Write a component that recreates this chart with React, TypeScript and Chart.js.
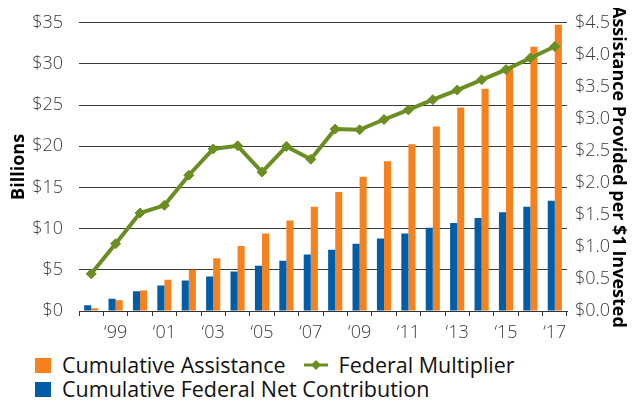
import React, { useEffect, useRef } from "react";
import { Chart, registerables } from "chart.js";

Chart.register(...registerables);

const years = [
  "1998", "1999", "2000", "2001", "2002", "2003", "2004", "2005", "2006", "2007",
  "2008", "2009", "2010", "2011", "2012", "2013", "2014", "2015", "2016", "2017",
];
const tickLabels = years.map((y) => (Number(y) % 2 === 1 ? "\u2018" + y.slice(2) : ""));

const cumulativeAssistance = [
  0.33, 1.3, 2.5, 3.8, 5.0, 6.4, 7.9, 9.4, 11.0, 12.65,
  14.45, 16.3, 18.2, 20.25, 22.4, 24.7, 27.0, 29.55, 32.1, 34.75,
];
const cumulativeFederalNet = [
  0.7, 1.5, 2.4, 3.1, 3.7, 4.2, 4.8, 5.5, 6.1, 6.85,
  7.45, 8.17, 8.8, 9.4, 10.1, 10.7, 11.3, 12.0, 12.65, 13.4,
];
const federalMultiplier = [
  0.58, 1.05, 1.53, 1.65, 2.12, 2.53, 2.58, 2.17, 2.57, 2.37,
  2.84, 2.83, 2.99, 3.14, 3.3, 3.45, 3.61, 3.77, 3.95, 4.13,
];

const ORANGE = "#F5821F";
const BLUE = "#005DA6";
const GREEN = "#6B8E23";
const FONT = "'Open Sans', 'Noto Sans', sans-serif";
const TEXT = "#3a3a3a";

export default function App() {
  const canvasRef = useRef<HTMLCanvasElement | null>(null);

  useEffect(() => {
    if (!canvasRef.current) return;
    const chart = new Chart(canvasRef.current, {
      type: "bar",
      data: {
        labels: tickLabels,
        datasets: [
          {
            type: "line",
            label: "Federal Multiplier",
            data: federalMultiplier,
            yAxisID: "y2",
            borderColor: GREEN,
            backgroundColor: GREEN,
            borderWidth: 4,
            pointStyle: "rectRot",
            pointRadius: 5,
            pointBackgroundColor: GREEN,
            pointBorderColor: GREEN,
            pointBorderWidth: 1,
            tension: 0,
            order: 0,
          },
          {
            type: "bar",
            label: "Cumulative Federal Net Contribution",
            data: cumulativeFederalNet,
            yAxisID: "y",
            backgroundColor: BLUE,
            barPercentage: 1,
            categoryPercentage: 0.58,
            order: 1,
          },
          {
            type: "bar",
            label: "Cumulative Assistance",
            data: cumulativeAssistance,
            yAxisID: "y",
            backgroundColor: ORANGE,
            barPercentage: 1,
            categoryPercentage: 0.58,
            order: 1,
          },
        ],
      },
      options: {
        responsive: true,
        maintainAspectRatio: false,
        animation: false,
        layout: { padding: { top: 1, left: 0, right: 0, bottom: 0 } },
        plugins: {
          legend: { display: false },
          tooltip: { enabled: false },
        },
        scales: {
          x: {
            offset: true,
            grid: {
              offset: true,
              drawOnChartArea: false,
              drawTicks: true,
              tickLength: 5,
              color: "#333",
            },
            border: { display: true, color: "#333", width: 1 },
            ticks: {
              autoSkip: false,
              maxRotation: 0,
              padding: 6,
              color: TEXT,
              font: { family: FONT, size: 18, weight: 300 },
            },
            afterFit: (s: any) => {
              s.height = 42;
            },
          },
          y: {
            position: "left",
            min: 0,
            max: 35,
            ticks: {
              stepSize: 5,
              padding: 16,
              color: TEXT,
              font: { family: FONT, size: 18, weight: 300 },
              callback: (v: any) => "$" + v,
            },
            grid: { drawTicks: false, color: "#3a3a3a", lineWidth: 1 },
            border: { display: false },
            title: {
              display: true,
              text: "Billions",
              color: "#000",
              font: { family: FONT, size: 18, weight: "bold" },
              padding: { top: 0, bottom: 0 },
            },
            afterFit: (s: any) => {
              s.width = 71;
            },
          },
          y2: {
            position: "right",
            min: 0,
            max: 4.5,
            ticks: {
              stepSize: 0.5,
              padding: 8,
              color: TEXT,
              font: { family: FONT, size: 18, weight: 300 },
              callback: (v: any) => "$" + Number(v).toFixed(1),
            },
            grid: { drawOnChartArea: false, drawTicks: false },
            border: { display: false },
            title: {
              display: true,
              text: "Assistance Provided per $1 Invested",
              color: "#000",
              font: { family: FONT, size: 18, weight: "bold" },
              padding: { top: 0, bottom: 0 },
            },
            afterFit: (s: any) => {
              s.width = 62;
            },
          },
        },
      },
    });
    return () => chart.destroy();
  }, []);

  const legendText: React.CSSProperties = {
    fontFamily: FONT,
    fontSize: 21.5,
    color: "#111",
    lineHeight: "24px",
    whiteSpace: "nowrap",
  };
  const square = (c: string): React.CSSProperties => ({
    display: "inline-block",
    width: 16,
    height: 15,
    background: c,
    marginRight: 11,
    flex: "0 0 auto",
  });

  return (
    <div style={{ width: 621 }}>
      <div style={{ position: "relative", width: 621, height: 357, marginTop: -12 }}>
        <canvas ref={canvasRef} />
      </div>
      <div style={{ paddingLeft: 27 }}>
        <div style={{ display: "flex", alignItems: "center", height: 24 }}>
          <span style={square(ORANGE)} />
          <span style={legendText}>Cumulative Assistance</span>
          <svg width="24" height="12" style={{ marginLeft: 18, marginRight: 11, flex: "0 0 auto" }}>
            <line x1="0" y1="6" x2="24" y2="6" stroke={GREEN} strokeWidth="3" />
            <polygon points="12,1 17,6 12,11 7,6" fill={GREEN} />
          </svg>
          <span style={legendText}>Federal Multiplier</span>
        </div>
        <div style={{ display: "flex", alignItems: "center", height: 24 }}>
          <span style={square(BLUE)} />
          <span style={legendText}>Cumulative Federal Net Contribution</span>
        </div>
      </div>
    </div>
  );
}
